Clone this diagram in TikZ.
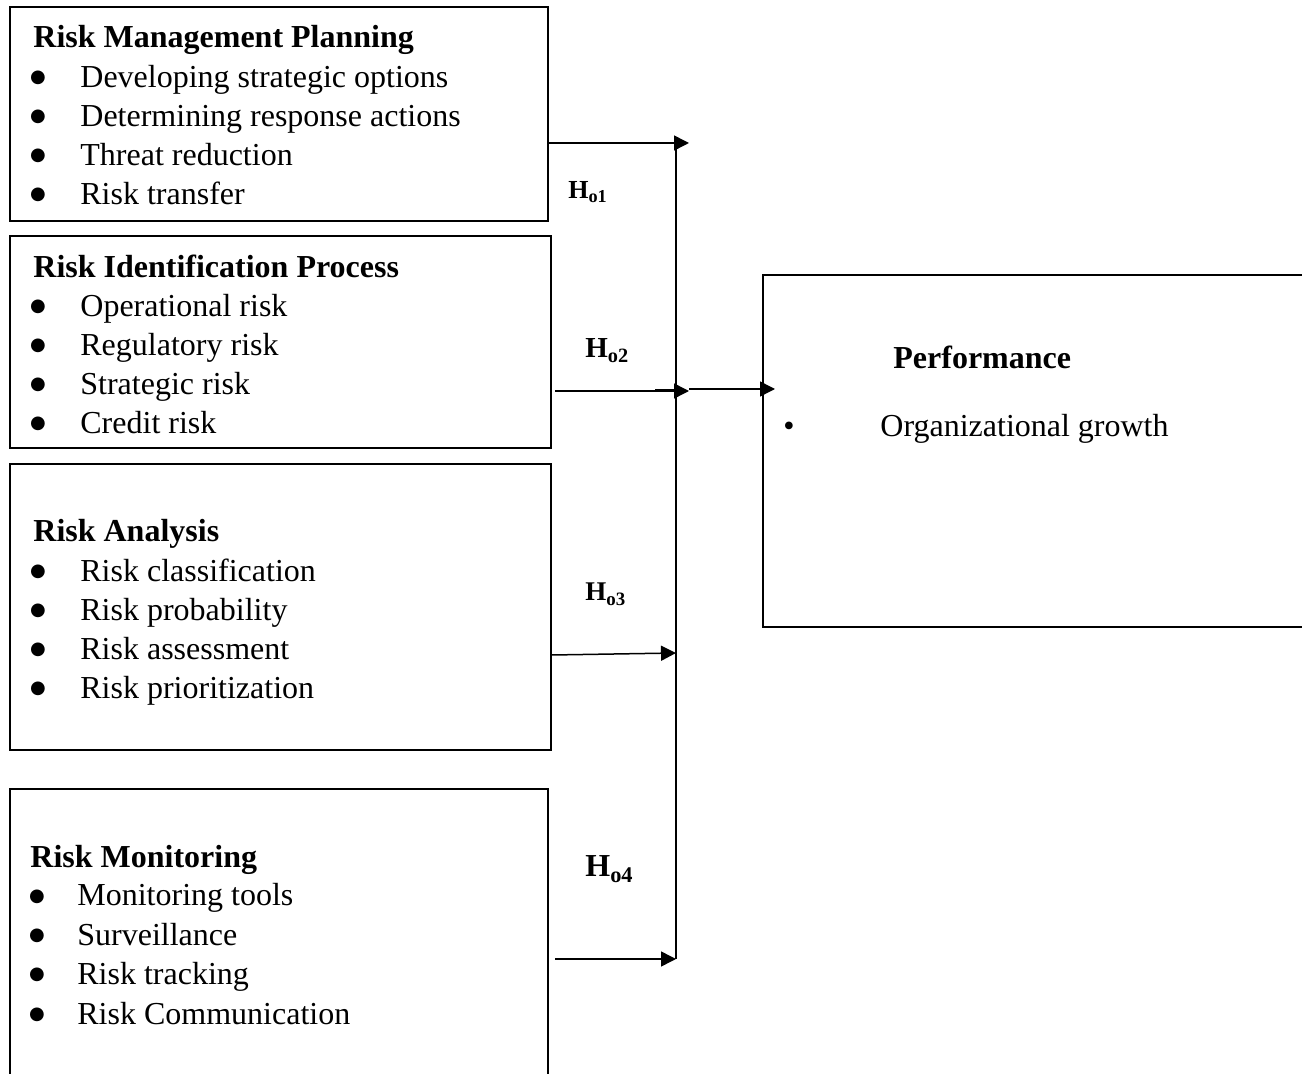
\documentclass[tikz,border=0pt]{standalone}
\usepackage{fontspec}
\setmainfont{Liberation Serif}
\newfontfamily\dotfont{DejaVu Sans}
\usetikzlibrary{arrows.meta,fit}
\begin{document}
\begin{tikzpicture}[x=0.5pt,y=-0.5pt,
  box/.style={draw,line width=1.2pt,inner sep=0pt},
  txt/.style={anchor=base west,inner sep=0pt,font=\fontsize{16pt}{19.5pt}\selectfont},
  ttl/.style={anchor=base west,inner sep=0pt,font=\fontsize{16pt}{19.5pt}\selectfont\bfseries},
  bul/.style={anchor=base,inner sep=0pt,font=\dotfont\fontsize{9pt}{9pt}\selectfont},
  hyp/.style={anchor=base west,inner sep=0pt},
  conn/.style={line width=0.75pt,-{Triangle[length=7.5pt,width=7.5pt]}}]
\useasboundingbox (0,0) rectangle (1302,1074);

% boxes
\node[box,fit={(10,7) (548,221)}] (b1) {};
\node[box,fit={(10,236) (551,448)}] (b2) {};
\node[box,fit={(10,464) (551,750)}] (b3) {};
\node[box,fit={(10,789) (548,1100)}] (b4) {};
\node[box,fit={(763,275) (1320,627)}] (b5) {};

% box 1
\node[ttl] (t1) at (33,48) {Risk Management Planning};
\node[bul] (p11) at (38,83) {●}; \node[txt] (i11) at (80,88) {Developing strategic options};
\node[bul] (p12) at (38,122) {●}; \node[txt] (i12) at (80,127) {Determining response actions};
\node[bul] (p13) at (38,161) {●}; \node[txt] (i13) at (80,166) {Threat reduction};
\node[bul] (p14) at (38,200) {●}; \node[txt] (i14) at (80,205) {Risk transfer};

% box 2
\node[ttl] (t2) at (33,278) {Risk Identification Process};
\node[bul] (p21) at (38,312) {●}; \node[txt] (i21) at (80,317) {Operational risk};
\node[bul] (p22) at (38,351) {●}; \node[txt] (i22) at (80,356) {Regulatory risk};
\node[bul] (p23) at (38,390) {●}; \node[txt] (i23) at (80,395) {Strategic risk};
\node[bul] (p24) at (38,429) {●}; \node[txt] (i24) at (80,434) {Credit risk};

% box 3
\node[ttl] (t3) at (33,542) {Risk Analysis};
\node[bul] (p31) at (38,577) {●}; \node[txt] (i31) at (80,582) {Risk classification};
\node[bul] (p32) at (38,616) {●}; \node[txt] (i32) at (80,621) {Risk probability};
\node[bul] (p33) at (38,655) {●}; \node[txt] (i33) at (80,660) {Risk assessment};
\node[bul] (p34) at (38,694) {●}; \node[txt] (i34) at (80,699) {Risk prioritization};

% box 4
\node[ttl] (t4) at (30,867) {Risk Monitoring};
\node[bul] (p41) at (37,901) {●}; \node[txt] (i41) at (77,906) {Monitoring tools};
\node[bul] (p42) at (37,940) {●}; \node[txt] (i42) at (77,945) {Surveillance};
\node[bul] (p43) at (37,979) {●}; \node[txt] (i43) at (77,984) {Risk tracking};
\node[bul] (p44) at (37,1019) {●}; \node[txt] (i44) at (77,1024) {Risk Communication};

% performance
\node[ttl] (t5) at (893,369) {Performance};
\node[anchor=base,inner sep=0pt,font=\fontsize{16pt}{19.5pt}\selectfont] (p51) at (789,437) {•};
\node[txt] (i51) at (880,437) {Organizational growth};

% hypotheses
\node[hyp,font=\fontsize{13pt}{15pt}\selectfont\bfseries] (h1) at (568,199) {H\textsubscript{o1}};
\node[hyp,font=\fontsize{14.5pt}{16pt}\selectfont\bfseries] (h2) at (585,358) {H\textsubscript{o2}};
\node[hyp,font=\fontsize{13.5pt}{16pt}\selectfont\bfseries] (h3) at (585,601) {H\textsubscript{o3}};
\node[hyp,font=\fontsize{16pt}{18pt}\selectfont\bfseries] (h4) at (585,877) {H\textsubscript{o4}};

% connectors
\coordinate (s1) at (548,143);
\coordinate (e1) at (689,143);
\coordinate (s2) at (555,391);
\coordinate (e2) at (689,391);
\coordinate (m2) at (655,390);
\coordinate (s3) at (552,655);
\coordinate (e3) at (676,653);
\coordinate (s4) at (555,959);
\coordinate (e4) at (676,959);
\coordinate (vt) at (676,143);
\coordinate (vb) at (676,959);
\coordinate (o5) at (689,389);
\coordinate (e5) at (775,389);

\draw[line width=0.75pt] (vt) -- (vb);
\draw[conn] (s1) -- (e1);
\draw[conn] (s2) -- (e2);
\draw[line width=1.3pt] (m2) -- (vt |- m2);
\draw[conn] (s3) -- (e3);
\draw[conn] (s4) -- (e4);
\draw[conn] (o5) -- (e5);
\end{tikzpicture}
\end{document}
